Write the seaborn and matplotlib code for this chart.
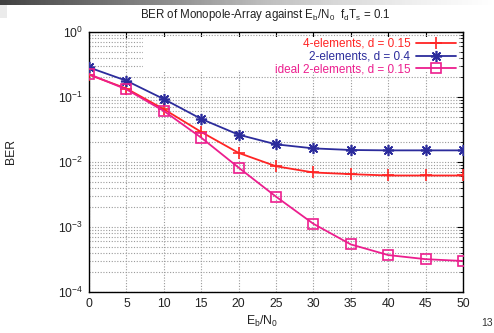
import numpy as np
import pandas as pd
import matplotlib
matplotlib.use("Agg")
import matplotlib.pyplot as plt
import seaborn as sns
from matplotlib.patches import Rectangle
from matplotlib.ticker import LogLocator, LogFormatterMathtext, NullFormatter

# ---- data ----
ebn0 = [0, 5, 10, 15, 20, 25, 30, 35, 40, 45, 50]
ber_4el_015 = [0.22, 0.135, 0.065, 0.029, 0.0138, 0.0086, 0.0069, 0.0065, 0.0062, 0.0062, 0.0062]
ber_2el_04 = [0.285, 0.178, 0.093, 0.046, 0.0263, 0.0187, 0.0162, 0.0153, 0.0151, 0.0151, 0.0151]
ber_ideal_2el_015 = [0.225, 0.131, 0.061, 0.0237, 0.0082, 0.00293, 0.00112, 0.00054, 0.00037, 0.00032, 0.00030]
labels = ["4-elements, d = 0.15", "2-elements, d = 0.4", "ideal 2-elements, d = 0.15"]
xticks = [0, 5, 10, 15, 20, 25, 30, 35, 40, 45, 50]
title = r"BER of Monopole-Array against E$_\mathregular{b}$/N$_\mathregular{0}$  f$_\mathregular{d}$T$_\mathregular{s}$ = 0.1"

sns.set_style("white")
plt.rcParams["font.family"] = ["Liberation Sans", "DejaVu Sans"]
plt.rcParams["mathtext.fontset"] = "custom"
plt.rcParams["mathtext.rm"] = "Liberation Sans"
plt.rcParams["mathtext.it"] = "Liberation Sans:italic"
plt.rcParams["mathtext.bf"] = "Liberation Sans:bold"

W, H = 494, 333
fig = plt.figure(figsize=(W / 100, H / 100), dpi=100)
ax = fig.add_axes([89 / W, 1 - 292 / H, (463 - 89) / W, (292 - 32) / H])

colors = ["#ff2424", "#2c2c9c", "#ec1e8e"]
markers = ["+", (8, 2, 0), "s"]
msizes = [8, 8, 7.5]
series = [ber_4el_015, ber_2el_04, ber_ideal_2el_015]

for lab, ys, c, m, ms in zip(labels, series, colors, markers, msizes):
    df = pd.DataFrame({"EbN0": ebn0, "BER": ys})
    sns.lineplot(data=df, x="EbN0", y="BER", ax=ax, color=c, marker=m,
                 markersize=ms, markeredgecolor=c, markeredgewidth=1.2,
                 markerfacecolor="none", linewidth=1.3, label=lab, zorder=3)

ax.set_yscale("log")
ax.set_xlim(0, 50)
ax.set_ylim(1e-4, 1)
ax.set_xticks(xticks)
ax.set_xticklabels([str(v) for v in xticks])
ax.yaxis.set_major_locator(LogLocator(base=10, numticks=10))
ax.yaxis.set_major_formatter(LogFormatterMathtext())
ax.yaxis.set_minor_locator(LogLocator(base=10, subs=np.arange(2, 10), numticks=20))
ax.yaxis.set_minor_formatter(NullFormatter())

ax.set_axisbelow(True)
grid_kw = dict(color="#9a9a9a", linestyle=(0, (1, 1.5)), linewidth=0.8)
ax.grid(True, which="major", axis="both", **grid_kw)
ax.grid(True, which="minor", axis="y", **grid_kw)

ax.tick_params(which="both", direction="in", top=True, right=True,
               colors="black", labelcolor="#222222", labelsize=8.8)
ax.tick_params(which="major", length=4, width=0.8, pad=4)
ax.tick_params(which="minor", length=2.5, width=0.6)
for s in ax.spines.values():
    s.set_color("black")
    s.set_linewidth(1.0)

# opaque key background (gnuplot style)
ax.add_patch(Rectangle(((143 - 89) / 374, (292 - 72) / 260),
                       1 - (143 - 89) / 374 - 5 / 374, (72 - 32) / 260 - 5 / 260,
                       transform=ax.transAxes, facecolor="white",
                       edgecolor="none", zorder=1))

leg = ax.legend(loc="upper right", bbox_to_anchor=(0.981, 0.978), frameon=False,
                markerfirst=False, fontsize=8.5, handlelength=3.4,
                handletextpad=0.45, labelspacing=0.08, borderpad=0,
                borderaxespad=0)
for t, c in zip(leg.get_texts(), colors):
    t.set_color(c)

ax.set_xlabel(r"E$_\mathregular{b}$/N$_\mathregular{0}$", fontsize=8.8, color="#222222")
ax.xaxis.set_label_coords((262 - 89) / 374, -0.085)
ax.set_ylabel("BER", fontsize=8.8, color="#222222")
ax.yaxis.set_label_coords(-(89 - 17) / 374, (292 - 151) / 260)

fig.text(265 / W, 1 - 15 / H, title, ha="center", va="center", fontsize=8.3, color="#222222")
fig.text(487 / W, 1 - 323 / H, "13", ha="center", va="center", fontsize=7.5, color="#333333")

# slide header gradient bar
gax = fig.add_axes([0, 1 - 5 / H, 1, 5 / H])
grad = np.linspace(0, 1, 256)[None, :]
gax.imshow(grad, aspect="auto", cmap="Greys_r", vmin=-0.25, vmax=1.0, extent=(0, 1, 0, 1))
gax.axis("off")
sax = fig.add_axes([0, 1 - 18 / H, 6 / W, 13 / H])
sax.imshow([[0.85]], aspect="auto", cmap="Greys_r", vmin=0, vmax=1)
sax.axis("off")

fig.savefig("out.png", dpi=100)
